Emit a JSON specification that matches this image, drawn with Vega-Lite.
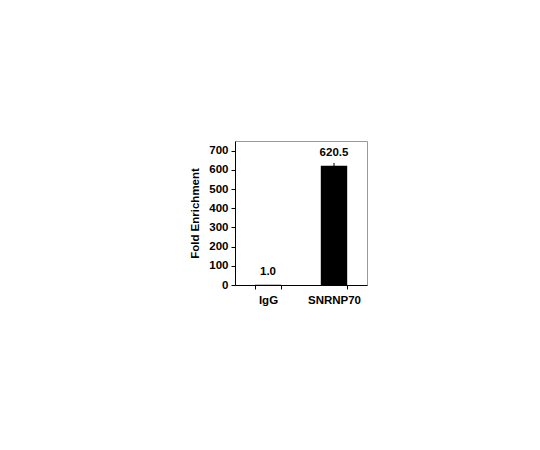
{
  "$schema": "https://vega.github.io/schema/vega-lite/v6.json",
  "autosize": "none",
  "width": 132,
  "height": 144,
  "padding": {"left": 235, "top": 141, "right": 173, "bottom": 165},
  "background": "white",
  "data": {
    "values": [
      {"group": "IgG", "value": 1.0, "low": 0.9, "high": 1.1},
      {"group": "SNRNP70", "value": 620.5, "low": 605, "high": 636}
    ]
  },
  "config": {
    "view": {"stroke": "#9a9a9a", "strokeWidth": 1},
    "font": "Liberation Sans",
    "axis": {
      "domainColor": "black",
      "tickColor": "black",
      "labelFont": "Liberation Sans",
      "labelFontWeight": "bold",
      "labelFontSize": 11.5,
      "labelColor": "black",
      "labelOverlap": false,
      "titleFont": "Liberation Sans",
      "titleFontWeight": "bold",
      "titleFontSize": 11.5,
      "titleColor": "black",
      "grid": false
    }
  },
  "encoding": {
    "x": {
      "field": "group",
      "type": "nominal",
      "sort": null,
      "scale": {"paddingInner": 0.6, "paddingOuter": 0.3},
      "axis": {
        "title": null,
        "labelAngle": 0,
        "tickBand": "extent",
        "tickSize": 4,
        "labelPadding": 5
      }
    },
    "y": {
      "field": "value",
      "type": "quantitative",
      "scale": {"domain": [0, 750], "nice": false},
      "axis": {
        "title": "Fold Enrichment",
        "values": [0, 100, 200, 300, 400, 500, 600, 700],
        "tickSize": 4,
        "labelPadding": 3,
        "titlePadding": 8
      }
    }
  },
  "layer": [
    {
      "mark": {"type": "bar", "color": "black"}
    },
    {
      "mark": {"type": "rule", "color": "black", "strokeWidth": 1},
      "encoding": {
        "y": {
          "field": "low",
          "type": "quantitative",
          "axis": {
            "title": "Fold Enrichment",
            "values": [0, 100, 200, 300, 400, 500, 600, 700],
            "tickSize": 4,
            "labelPadding": 3,
            "titlePadding": 8
          }
        },
        "y2": {"field": "high"}
      }
    },
    {
      "mark": {
        "type": "text",
        "baseline": "bottom",
        "dy": -8,
        "fontWeight": "bold",
        "fontSize": 11.5,
        "font": "Liberation Sans",
        "color": "black"
      },
      "encoding": {
        "text": {"field": "value", "type": "quantitative", "format": ".1f"}
      }
    }
  ]
}
